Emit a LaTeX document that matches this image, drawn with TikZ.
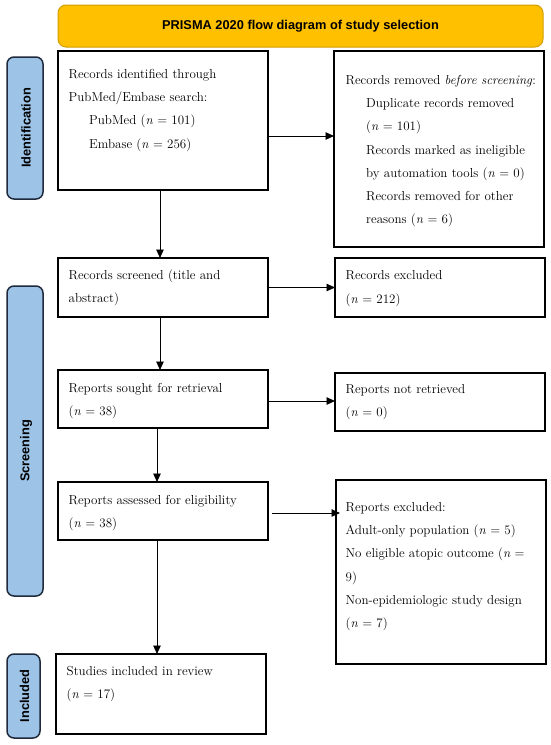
\documentclass[tikz,border=0pt]{standalone}
\usepackage{fontspec}
\newfontfamily\arialfont{Liberation Sans}
\usetikzlibrary{arrows.meta,calc}
\definecolor{bannerfill}{HTML}{FFC000}
\definecolor{bannerline}{HTML}{D29E00}
\definecolor{barfill}{HTML}{9DC3E6}
\definecolor{barline}{HTML}{1F2A3C}
\tikzset{
  box/.style={draw=black, line width=1.1pt, inner sep=0pt, outer sep=0pt, fill=white},
  bar/.style={draw=barline, fill=barfill, line width=1.5pt, rounded corners=7pt, inner sep=0pt, outer sep=0pt},
  bartext/.style={font=\arialfont\bfseries\fontsize{12.8}{14}\selectfont, rotate=90, text=black},
  banner/.style={draw=bannerline, fill=bannerfill, line width=1pt, rounded corners=8pt, inner sep=0pt, outer sep=0pt},
  btext/.style={anchor=north west, align=left, inner sep=0pt, font=\fontsize{13}{23.2}\selectfont},
  arr/.style={draw=black, line width=0.9pt, -{Triangle[length=8.5pt,width=7.5pt]}}
}
\newcommand{\ind}{\hspace*{20.5pt}}
\newcommand{\nn}{\textit{n}}
\begin{document}
\begin{tikzpicture}[x=1pt,y=-1pt]
\fill[white] (0,0) rectangle (550,745);
\useasboundingbox (0,0) rectangle (550,745);
% banner
\node[banner, minimum width=485pt, minimum height=42pt] (title) at (300.5,26) {};
\node[font=\arialfont\bfseries\fontsize{12.8}{14}\selectfont] (titletext) at (300.5,26) {PRISMA 2020 flow diagram of study selection};
% side bars
\node[bar, minimum width=36pt, minimum height=142pt] (ib) at (25,128) {};
\node[bartext] (ibt) at (26,128) {Identification};
\node[bar, minimum width=36pt, minimum height=310pt] (sb) at (25,441) {};
\node[bartext] (sbt) at (26,451) {Screening};
\node[bar, minimum width=33pt, minimum height=84pt] (nb) at (23.5,696) {};
\node[bartext] (nbt) at (24.5,696) {Included};
% boxes
\node[box, minimum width=210pt, minimum height=139pt] (b1) at (163,120.5) {};
\node[box, minimum width=210pt, minimum height=196pt] (r1) at (439,149) {};
\node[box, minimum width=210pt, minimum height=59pt] (b2) at (163,287.5) {};
\node[box, minimum width=210pt, minimum height=59pt] (r2) at (440,287.5) {};
\node[box, minimum width=210pt, minimum height=58pt] (b3) at (163,399) {};
\node[box, minimum width=210pt, minimum height=58pt] (r3) at (440,402) {};
\node[box, minimum width=210pt, minimum height=58pt] (b4) at (163,511) {};
\node[box, minimum width=210pt, minimum height=184pt] (r4) at (441,572) {};
\node[box, minimum width=210pt, minimum height=80pt] (b5) at (161,694) {};
% texts
\node[btext] (t1) at (68.5,62.1) {\strut Records identified through\\PubMed/Embase search:\\\ind PubMed (\nn{} = 101)\\\ind Embase (\nn{} = 256)};
\node[btext] (tr1) at (345.5,68.1) {\strut Records removed \textit{before screening}:\\\ind Duplicate records removed\\\ind (\nn{} = 101)\\\ind Records marked as ineligible\\\ind by automation tools (\nn{} = 0)\\\ind Records removed for other\\\ind reasons (\nn{} = 6)};
\node[btext] (t2) at (68.5,263) {\strut Records screened (title and\\abstract)};
\node[btext] (tr2) at (345.5,263.5) {\strut Records excluded\\(\nn{} = 212)};
\node[btext] (t3) at (68.5,376) {\strut Reports sought for retrieval\\(\nn{} = 38)};
\node[btext] (tr3) at (345.5,377) {\strut Reports not retrieved\\(\nn{} = 0)};
\node[btext] (t4) at (68.5,488) {\strut Reports assessed for eligibility\\(\nn{} = 38)};
\node[btext] (tr4) at (345.5,495) {\strut Reports excluded:\\Adult-only population (\nn{} = 5)\\No eligible atopic outcome (\nn{} =\\9)\\Non-epidemiologic study design\\(\nn{} = 7)};
\node[btext] (t5) at (66.5,659) {\strut Studies included in review\\(\nn{} = 17)};
% arrows
\draw[arr] ([yshift=-15.5pt]b1.east) -- ([yshift=-15.5pt]b1.east -| r1.west);
\draw[arr] ([xshift=-3pt]b1.south) -- ([xshift=-3pt]b1.south |- b2.north);
\draw[arr] (b2.east) -- (b2.east -| r2.west);
\draw[arr] ([xshift=-3pt]b2.south) -- ([xshift=-3pt]b2.south |- b3.north);
\draw[arr] ([yshift=-2pt]b3.east) -- ([yshift=-2pt]b3.east -| r3.west);
\draw[arr] ([xshift=-6pt]b3.south) -- ([xshift=-6pt]b3.south |- b4.north);
\draw[arr] ([xshift=4pt,yshift=-2pt]b4.east) -- ([xshift=4pt,yshift=-2pt]b4.east -| r4.west);
\draw[arr] ([xshift=-6pt]b4.south) -- ([xshift=-6pt]b4.south |- b5.north);
\end{tikzpicture}
\end{document}
